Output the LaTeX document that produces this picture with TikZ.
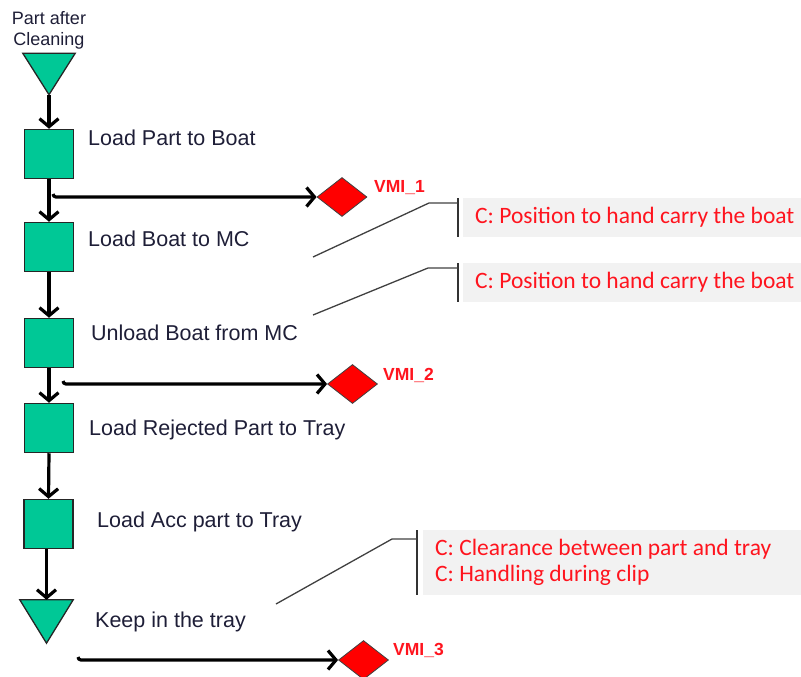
\documentclass[tikz,border=0pt]{standalone}
\usepackage{fontspec}
\setmainfont{Liberation Sans}
\newfontfamily\calfont{Carlito}
\usetikzlibrary{arrows.meta,shapes.geometric}
\definecolor{opgreen}{RGB}{0,200,150}
\definecolor{labelink}{RGB}{30,30,55}
\definecolor{notegrey}{RGB}{242,242,242}
\definecolor{notered}{RGB}{255,20,30}
\begin{document}
\begin{tikzpicture}[x=1pt,y=-1pt,
  opbox/.style={draw=black!85, line width=1.5pt, fill=opgreen,
    minimum width=49pt, minimum height=49pt, inner sep=0pt},
  trinode/.style={inner sep=0pt, minimum width=52pt, minimum height=41pt},
  tri/.style={draw=black!85, line width=1.3pt, fill=opgreen, line join=miter},
  insp/.style={diamond, draw=black!75, line width=0.8pt, fill=red,
    minimum width=50pt, minimum height=39pt, inner sep=0pt},
  flow/.style={draw=black, line width=3.2pt,
    -{Straight Barb[length=8pt,width=19pt]}},
  lbl/.style={anchor=base west, inner sep=0pt, text=labelink,
    font=\fontsize{21.5}{24}\selectfont},
  vmi/.style={anchor=base west, inner sep=0pt, text=notered,
    font=\bfseries\fontsize{17.5}{20}\selectfont},
  notebox/.style={fill=notegrey, inner sep=0pt, anchor=north west},
  notetxt/.style={anchor=base west, inner sep=0pt, text=notered,
    font=\calfont\fontsize{23.5}{26}\selectfont},
  leader/.style={draw=black!75, line width=1.3pt},
  bar/.style={draw=black!80, line width=2pt}]
\useasboundingbox (0,0) rectangle (801,677);

% ---- process column ----
\node[anchor=north, align=center, inner sep=0pt, text=labelink,
  font=\fontsize{18}{21.5}\selectfont] (srclbl) at (49,11) {Part after\\Cleaning};
\node[trinode] (t1) at (49,74) {};
\draw[tri] (t1.north west) -- (t1.north east) -- (t1.south) -- cycle;

\node[opbox] (s1) at (49,154) {};
\node[opbox] (s2) at (49,247) {};
\node[opbox] (s3) at (49,343) {};
\node[opbox] (s4) at (49,428) {};
\node[opbox] (s5) at (48.5,524) {};

\node[trinode, minimum width=53pt, minimum height=43pt] (t2) at (46.5,621.5) {};
\draw[tri] (t2.north west) -- (t2.north east) -- (t2.south) -- cycle;

\draw[flow] (t1.south) -- (s1.north);
\draw[flow] (s1.south) -- (s2.north);
\draw[flow] (s2.south) -- (s3.north);
\draw[flow] (s3.south) -- (s4.north);
\draw[flow] (s4.south) -- (s5.north);
\draw[flow] (t2.north |- s5.south) -- (t2.north);

% ---- step labels ----
\node[lbl] (l1) at (88,146) {Load Part to Boat};
\node[lbl] (l2) at (88,246) {Load Boat to MC};
\node[lbl] (l3) at (91,340) {Unload Boat from MC};
\node[lbl] (l4) at (89,435) {Load Rejected Part to Tray};
\node[lbl] (l5) at (97,527) {Load Acc part to Tray};
\node[lbl] (l6) at (95,627) {Keep in the tray};

% ---- inspection points ----
\node[insp] (d1) at (342,197) {};
\node[insp] (d2) at (352.5,384) {};
\node[insp] (d3) at (363.5,660) {};
\node[vmi] (v1) at (374,192) {VMI\_1};
\node[vmi] (v2) at (383,380) {VMI\_2};
\node[vmi] (v3) at (393,655) {VMI\_3};

\coordinate (b1) at (53,197);
\coordinate (b2) at (63,384);
\coordinate (b3) at (78,660);
\draw[flow] (b1) ++(0,-3) to[out=-90,in=180] ++(3,3) -- (d1.west);
\draw[flow] (b2) ++(0,-3) to[out=-90,in=180] ++(3,3) -- (d2.west);
\draw[flow] (b3) ++(0,-3) to[out=-90,in=180] ++(3,3) -- (d3.west);

% ---- notes ----
\node[notebox, minimum width=338pt, minimum height=39pt] (n1) at (463,198) {};
\node[notebox, minimum width=338pt, minimum height=39pt] (n2) at (463,263) {};
\node[notebox, minimum width=378pt, minimum height=65pt] (n3) at (423,530) {};

\node[notetxt] (n1a) at (475,223) {C: Position to hand carry the boat};
\node[notetxt] (n2a) at (475,288) {C: Position to hand carry the boat};
\node[notetxt] (n3a) at (435,555) {C: Clearance between part and tray};
\node[notetxt] (n3b) at (435,581) {C: Handling during clip};

% bracket bars on the left side of each note
\coordinate (r1t) at ([xshift=-5pt]n1.north west);
\coordinate (r1b) at ([xshift=-5pt]n1.south west);
\coordinate (r2t) at ([xshift=-5pt]n2.north west);
\coordinate (r2b) at ([xshift=-5pt]n2.south west);
\coordinate (r3t) at ([xshift=-6pt]n3.north west);
\coordinate (r3b) at ([xshift=-6pt]n3.south west);
\draw[bar] (r1t) -- (r1b);
\draw[bar] (r2t) -- (r2b);
\draw[bar] (r3t) -- (r3b);

% leader lines
\coordinate (p1) at (313,257);
\coordinate (k1) at (429,203);
\coordinate (p2) at (313,315);
\coordinate (k2) at (428,268);
\coordinate (p3) at (276,604);
\coordinate (k3) at (392,539);
\draw[leader] (p1) -- (k1) -- (k1 -| r1t);
\draw[leader] (p2) -- (k2) -- (k2 -| r2t);
\draw[leader] (p3) -- (k3) -- (k3 -| r3t);
\end{tikzpicture}
\end{document}
